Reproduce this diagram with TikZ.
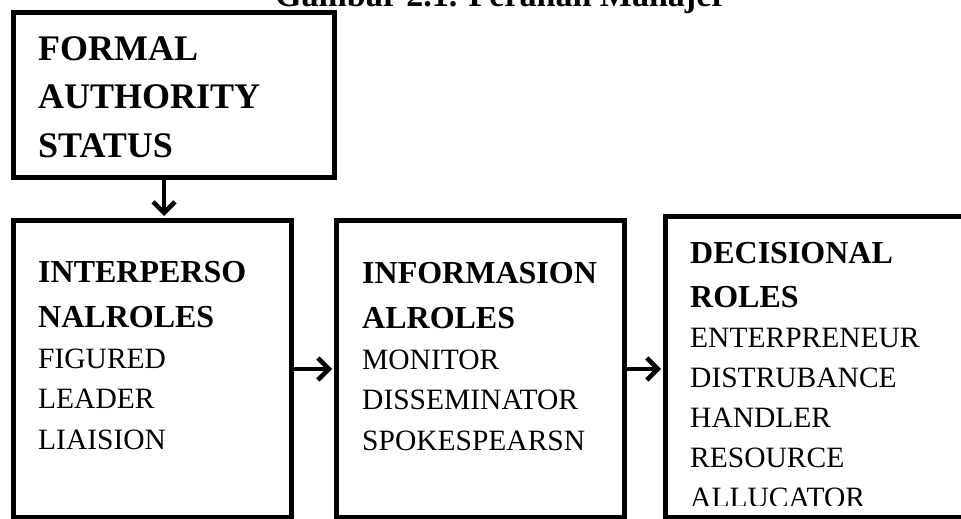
\documentclass[tikz,border=0pt]{standalone}
\usepackage{fontspec}
\setmainfont{Liberation Serif}
\usetikzlibrary{arrows.meta}

\newcommand{\rolehead}[1]{{\bfseries\fontsize{32}{40.5}\selectfont #1}}

\begin{document}
\begin{tikzpicture}[x=1pt,y=-1pt,
        rolebox/.style={draw,line width=5pt,anchor=north west,inner sep=0pt},
        roletext/.style={anchor=base west,align=left,inner sep=0pt,
                         font=\fontsize{29.5}{40.5}\selectfont},
        flow/.style={line width=4.5pt,shorten >=2pt,
                     -{Straight Barb[length=11pt,width=22pt]}}]
        \useasboundingbox (0,0) rectangle (961,519);
        \clip (0,0) rectangle (961,519);

        \node (title) at (730,7) [anchor=base east,font=\bfseries\fontsize{34}{40}\selectfont] {Gambar 2.1. Peranan Manajer};

        % Texts first (placed by their last line), boxes drawn over them
        \node (Tformal) at (38,157) [roletext,font=\bfseries\fontsize{36}{48.5}\selectfont] {FORMAL\\AUTHORITY\\STATUS};
        \node (Tinter)  at (38,449) [roletext] {\rolehead{INTERPERSO}\\[4.5pt]\rolehead{NALROLES}\\FIGURED\\LEADER\\LIAISION};
        \node (Tinfo)   at (362,450) [roletext] {\rolehead{INFORMASION}\\[4.5pt]\rolehead{ALROLES}\\MONITOR\\DISSEMINATOR\\SPOKESPEARSN};
        % last line runs out of the box and is cut
        \begin{scope}
            \clip (663,214) rectangle (983,505);
            \node (Tdecis) at (690,507) [roletext,font=\fontsize{29.5}{40}\selectfont] {\rolehead{DECISIONAL}\\[4pt]\rolehead{ROLES}\\ENTERPRENEUR\\DISTRUBANCE\\HANDLER\\RESOURCE\\ALLUCATOR};
        \end{scope}

        \node (formal) at (11,10)   [rolebox,minimum width=321pt,minimum height=165pt] {};
        \node (inter)  at (11,218)  [rolebox,minimum width=278pt,minimum height=297pt] {};
        \node (info)   at (334,218) [rolebox,minimum width=288pt,minimum height=297pt] {};
        \node (decis)  at (663,214) [rolebox,minimum width=320pt,minimum height=301pt] {};

        % Arrows between the boxes
        \draw[flow] ([xshift=-10pt]formal.south) -- ([xshift=-10pt]formal.south |- inter.north);
        \draw[flow] (inter.east) -- (info.west);
        \draw[flow] (info.east) -- (info.east -| decis.west);
\end{tikzpicture}
\end{document}
